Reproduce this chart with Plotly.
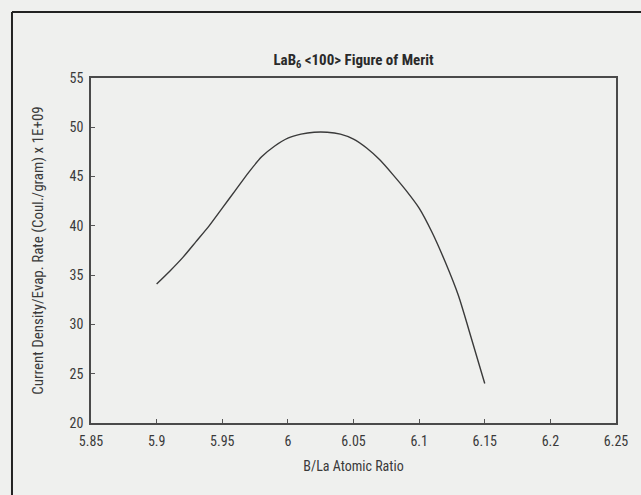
import plotly.graph_objects as go

# B/La atomic ratio vs figure of merit
ratio = [5.90, 5.91, 5.92, 5.93, 5.94, 5.95, 5.96, 5.97, 5.98, 5.99,
         6.00, 6.01, 6.02, 6.03, 6.04, 6.05, 6.06, 6.07, 6.08, 6.09,
         6.10, 6.11, 6.12, 6.13, 6.14, 6.15]
merit = [34.1, 35.4, 36.8, 38.4, 40.0, 41.8, 43.6, 45.4, 47.0, 48.1,
         48.9, 49.3, 49.5, 49.5, 49.3, 48.8, 47.9, 46.7, 45.2, 43.6,
         41.8, 39.3, 36.3, 32.9, 28.5, 24.0]

x_ticks = [5.85, 5.9, 5.95, 6, 6.05, 6.1, 6.15, 6.2, 6.25]
y_ticks = [20, 25, 30, 35, 40, 45, 50, 55]

FONT = 'Liberation Sans Narrow, Arial Narrow, Roboto Condensed, sans-serif'
BG = '#eff0ee'
TXT = '#3a3a3a'

fig = go.Figure()
fig.add_trace(go.Scatter(
    x=ratio, y=merit, mode='lines',
    line=dict(color='#3a3a3a', width=1.4, shape='spline', smoothing=0.6),
    showlegend=False
))

axis_common = dict(
    showgrid=False, zeroline=False,
    showline=True, linecolor='#4a4a4a', linewidth=1.5, mirror=True,
    ticks='inside', ticklen=4, tickcolor='#555555', tickwidth=1,
    tickfont=dict(family=FONT, size=14, color=TXT),
)

fig.update_layout(
    width=641, height=495,
    margin=dict(l=91, r=25, t=78, b=72),
    paper_bgcolor=BG, plot_bgcolor=BG,
    title=dict(
        text='<b>LaB<sub>6</sub> &lt;100&gt; Figure of Merit</b>',
        xref='paper', x=0.5, xanchor='center', y=1 - 60 / 495, yanchor='middle',
        font=dict(family=FONT, size=15, color='#2a2a2a'),
    ),
    xaxis=dict(
        range=[5.85, 6.25], tickvals=x_ticks,
        ticktext=[f'{v:g}' for v in x_ticks],
        ticklabelstandoff=4,
        title=dict(text='B/La Atomic Ratio', standoff=14,
                   font=dict(family=FONT, size=14, color=TXT)),
        **axis_common
    ),
    yaxis=dict(
        range=[20, 55], tickvals=y_ticks,
        ticklabelstandoff=3,
        title=dict(text='Current Density/Evap. Rate (Coul./gram) x 1E+09', standoff=22,
                   font=dict(family=FONT, size=15, color=TXT)),
        **axis_common
    ),
)

# border of the scanned figure box (left and top edges)
fig.add_shape(type='line', xref='paper', yref='paper',
              x0=-0.1505, x1=-0.1505, y0=-0.22, y1=1.191,
              line=dict(color='#222222', width=2))
fig.add_shape(type='line', xref='paper', yref='paper',
              x0=-0.1505, x1=1.06, y0=1.191, y1=1.191,
              line=dict(color='#222222', width=2))

fig.write_html('out.html', config={'displayModeBar': False},
               post_script="document.body.style.margin='0px';")
